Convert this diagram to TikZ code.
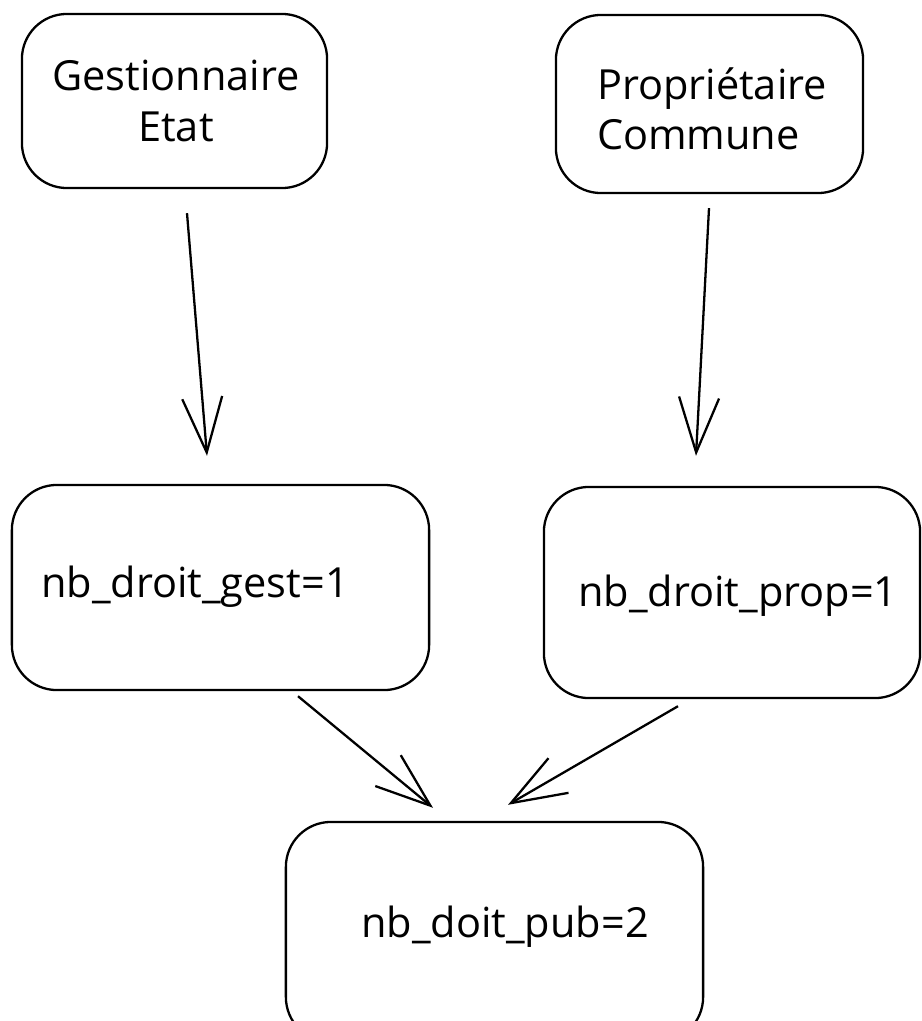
\documentclass[tikz,border=0pt]{standalone}
\usepackage{fontspec}
\setmainfont{Open Sans}
\usepackage{tikz}
\usetikzlibrary{calc}
\usetikzlibrary{arrows.meta}
\tikzset{card/.style={draw, line width=0.65pt, rounded corners=0.45cm, inner sep=0pt}}
\tikzset{txt/.style={inner sep=0pt, font=\fontsize{11.8}{14.3}\selectfont}}
\tikzset{link/.style={line width=0.65pt, -{Straight Barb[length=0.55cm,width=0.4cm,line width=0.65pt]}}}

\begin{document}
\begin{tikzpicture}[x=0.01cm, y=-0.01cm]
        \clip (0,0) rectangle (921,1021);
        % top row
        \node[card, minimum width=3.05cm, minimum height=1.74cm] (etat) at (174.5,101) {};
        \node[card, minimum width=3.07cm, minimum height=1.78cm] (commune) at (709.5,104) {};
        \node[txt, align=center] (etattxt) at (176,101) {Gestionnaire\\Etat};
        \node[txt, align=left] (communetxt) at (712,109) {Propriétaire\\Commune};
        % middle row
        \node[card, minimum width=4.17cm, minimum height=2.05cm] (gest) at (220.5,587.5) {};
        \node[card, minimum width=3.76cm, minimum height=2.11cm] (prop) at (732,592.5) {};
        \node[txt] (gesttxt) at (195,587) {nb\_droit\_gest=1};
        \node[txt] (proptxt) at (738,596) {nb\_droit\_prop=1};
        % bottom
        \node[card, minimum width=4.17cm, minimum height=2.2cm] (pub) at (494.5,932) {};
        \node[txt] (pubtxt) at (505,927) {nb\_doit\_pub=2};
        % arrows
        \draw[link] ([shift={(12.5,24)}]etat.south) -- ([shift={(-13.5,-28)}]gest.north);
        \draw[link] ([shift={(-0.5,14)}]commune.south) -- ([shift={(-36,-30)}]prop.north);
        \draw[link] ([shift={(77.5,5)}]gest.south) -- ([shift={(-61.5,-13)}]pub.north);
        \draw[link] ([shift={(-54,7)}]prop.south) -- ([shift={(13.5,-16)}]pub.north);
\end{tikzpicture}
\end{document}
